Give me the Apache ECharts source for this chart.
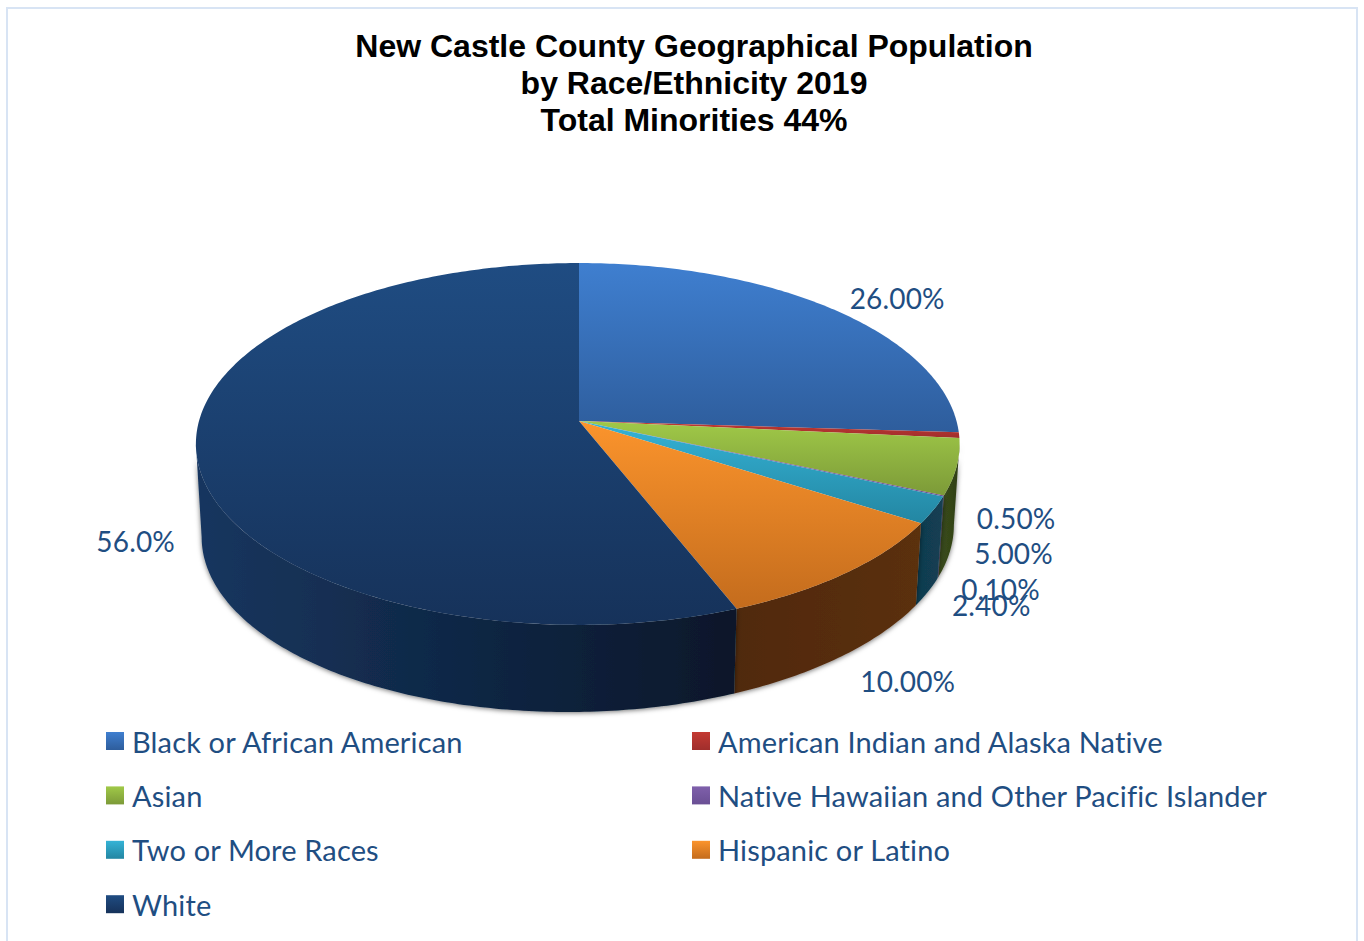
<!DOCTYPE html>
<html>
<head>
<meta charset="utf-8">
<title>New Castle County population by race and ethnicity</title>
<script src="https://cdn.jsdelivr.net/npm/echarts@6/dist/echarts.min.js"></script>
<style>
  html, body { margin: 0; padding: 0; background: #fff; }
  #chart { width: 1364px; height: 941px; }
  #chart text[style*="Lato"] { font-variant-ligatures: none !important; letter-spacing: 0.15px; }
</style>
</head>
<body>
<div id="chart"></div>
<script>
// Population shares, in percent, clockwise from twelve o'clock.
const categories = [
  'Black or African American',
  'American Indian and Alaska Native',
  'Asian',
  'Native Hawaiian and Other Pacific Islander',
  'Two or More Races',
  'Hispanic or Latino',
  'White'
];
const shares = [26, 0.5, 5, 0.1, 2.4, 10, 56];
const shareLabels = ['26.00%', '0.50%', '5.00%', '0.10%', '2.40%', '10.00%', '56.0%'];
const titleLines = [
  'New Castle County Geographical Population',
  'by Race/Ethnicity 2019',
  'Total Minorities 44%'
];

// Face and side shading for each slice.
const faceShades = [
  ['#3f7fd0', '#2e5d9c'], ['#c43a33', '#a02e2c'], ['#a0c948', '#7c9a38'], ['#7f60ab', '#6a4f94'],
  ['#35b3d6', '#2386a2'], ['#fb942c', '#c46c1d'], ['#1f4c82', '#16325a']
];
const wallShades = [
  ['#1e3b63', '#1e3b63'], ['#5a1a18', '#5a1a18'], ['#3c4f1c', '#2f3e16'], ['#3a2b55', '#3a2b55'],
  ['#103c50', '#133f52'], ['#50290c', '#5b300f'], ['#17365f', '#07172a']
];
// Label position relative to the middle of each slice's outer rim.
const labelOffsets = [[65, -11], [57, 83], [57, 86], [57, 93], [58, 95], [62, 108], [-61, 86]];

// Tilted-disc projection: far side foreshortened, near side enlarged.
const disc = { cx: 579, cy: 421, rxRight: 377.5, rxLeft: 380, ry: 178, tilt: -0.127, depth: 87, depthSkew: 6, baseScale: 0.985 };
const inkColor = '#1f4e82';
const labelFont = '28px Lato';

function project(angleDeg, lower) {
  const a = angleDeg * Math.PI / 180;
  const u = Math.sin(a), v = -Math.cos(a);
  const d = 1 + disc.tilt * v;
  const rx = (u < 0 ? disc.rxLeft : disc.rxRight) * (lower ? disc.baseScale : 1);
  const drop = lower ? disc.depth - disc.depthSkew * u : 0;
  return [disc.cx + rx * u / d, disc.cy + drop + disc.ry * v / d];
}

function arcPoints(from, to, lower) {
  const n = Math.max(2, Math.ceil((to - from) / 0.75));
  const pts = [];
  for (let k = 0; k <= n; k++) pts.push(project(from + (to - from) * k / n, lower));
  return pts;
}

function vertical(stops) {
  return { type: 'linear', x: 0, y: 0, x2: 0, y2: 1, colorStops: [{ offset: 0, color: stops[0] }, { offset: 1, color: stops[1] }] };
}
function horizontal(stops) {
  return { type: 'linear', x: 0, y: 0, x2: 1, y2: 0, colorStops: [{ offset: 0, color: stops[0] }, { offset: 1, color: stops[1] }] };
}

const total = shares.reduce((s, v) => s + v, 0);
let running = 0;
const spans = shares.map(v => {
  const from = running / total * 360;
  running += v;
  return [from, running / total * 360];
});

// The side wall only shows between the two silhouette points of the disc.
const wallStart = Math.acos(disc.tilt) * 180 / Math.PI;
const wallEnd = 360 - wallStart;

function sliceRenderer(i) {
  return function () {
    const [from, to] = spans[i];
    const topRim = arcPoints(from, to, false);
    const mid = project((from + to) / 2, false);
    const off = labelOffsets[i];
    const children = [
      {
        type: 'polygon',
        z2: 10 + i,
        shape: { points: [[disc.cx, disc.cy]].concat(topRim) },
        style: { fill: vertical(faceShades[i]) }
      },
      {
        type: 'text',
        z2: 50 + i,
        style: {
          text: shareLabels[i],
          x: mid[0] + off[0],
          y: mid[1] + off[1],
          fill: inkColor,
          font: labelFont,
          align: 'center',
          verticalAlign: 'middle'
        }
      }
    ];
    const wallFrom = Math.max(from, wallStart), wallTo = Math.min(to, wallEnd);
    if (wallTo > wallFrom) {
      children.push({
        type: 'polygon',
        z2: 1,
        shape: { points: arcPoints(wallFrom, wallTo, false).concat(arcPoints(wallFrom, wallTo, true).reverse()) },
        style: {
          fill: horizontal(wallShades[i]),
          shadowBlur: 5,
          shadowColor: 'rgba(0,0,0,0.55)',
          shadowOffsetY: 1
        }
      });
    }
    return { type: 'group', children };
  };
}

const legendEntry = i => ({ name: categories[i], itemStyle: { color: vertical(faceShades[i]) } });
const legendBase = {
  orient: 'vertical',
  top: 723,
  icon: 'rect',
  itemWidth: 18,
  itemHeight: 18,
  itemGap: 18.4,
  selectedMode: false,
  textStyle: { color: inkColor, fontFamily: 'Lato', fontSize: 29, lineHeight: 36, padding: [0, 0, 0, 3] },
  padding: 0
};

const chart = echarts.init(document.getElementById('chart'), null, { renderer: 'svg' });
chart.setOption({
  animation: false,
  backgroundColor: '#fff',
  title: {
    text: titleLines.join('\n'),
    left: 694,
    top: 27,
    textAlign: 'center',
    padding: 0,
    textStyle: { fontFamily: 'Liberation Sans', fontWeight: 'bold', fontSize: 32, lineHeight: 37, color: '#000' }
  },
  legend: [
    Object.assign({}, legendBase, { left: 106, data: [0, 2, 4, 6].map(legendEntry) }),
    Object.assign({}, legendBase, { left: 692, data: [1, 3, 5].map(legendEntry) })
  ],
  graphic: [{
    type: 'rect',
    silent: true,
    shape: { x: 7, y: 8, width: 1350, height: 960 },
    style: { fill: 'none', stroke: '#d8e4f4', lineWidth: 2 }
  }],
  series: categories.map((name, i) => ({
    type: 'custom',
    name,
    coordinateSystem: 'none',
    silent: true,
    clip: false,
    itemStyle: { color: faceShades[i][0] },
    renderItem: sliceRenderer(i),
    data: [[shares[i]]]
  }))
});
</script>
</body>
</html>
